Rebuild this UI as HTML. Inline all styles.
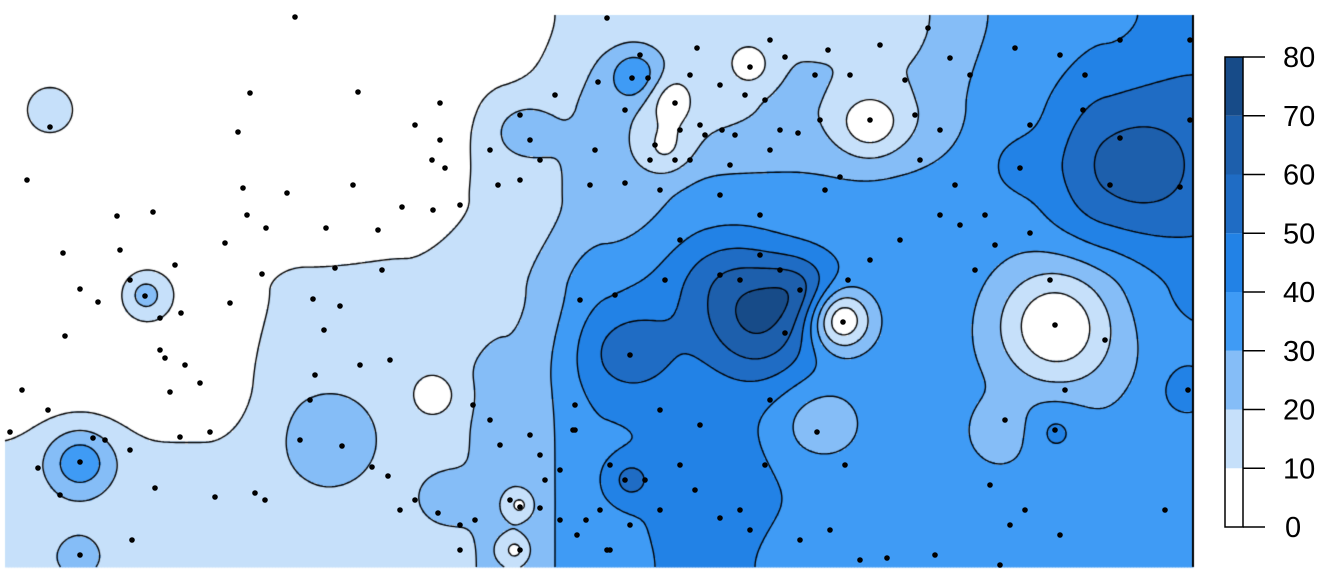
<!DOCTYPE html>
<html><head><meta charset="utf-8">
<style>
html,body{margin:0;padding:0;background:#fff;}
#wrap{position:relative;width:1334px;height:582px;overflow:hidden;font-family:"Liberation Sans",sans-serif;}
canvas,svg{position:absolute;left:0;top:0;}
</style></head>
<body>
<div id="wrap">
<canvas id="cv" width="1334" height="582"></canvas>
<svg id="sv" width="1334" height="582">
  <g id="pts"></g>
  <g id="legend"></g>
</svg>
</div>
<script>
// ---- data ----
const levels = [0,10,20,30,40,50,60,70,80];
const levelColors = ["#ffffff","#c6e0fa","#85bdf7","#3f9bf5","#2282e6","#1f6cc4","#1d5fac","#174b88"];
const gridX = [0,100,200,300,400,500,600,700,800,900,1000,1100,1200];
const gridY = [0,92,184,276,368,460,552];
const gridRow0 = [0,0,0,0,0,5,15,15,18,18,31,38,45];
const gridRow1 = [0,0,0,0,5,8,22,18,22,22,34,42,50];
const gridRow2 = [0,0,0,0,5,12,25,32,32,33,35,42,50];
const gridRow3 = [0,0,5,12,12,18,35,40,40,36,35,35,42];
const gridRow4 = [5,5,5,15,15,22,38,40,38,35,34,32,35];
const gridRow5 = [12,12,12,15,15,22,38,45,40,35,33,33,35];
const gridRow6 = [18,15,12,18,12,22,38,42,38,35,33,32,32];
const bumpX =   [45, 140, 75, 75, 325, 430, 435, 515, 755, 795, 725, 625, 835, 1050, 1120, 865, 660, 665, 745, 630, 1015, 1050, 815, 995, 1180, 625, 515, 510];
const bumpY =   [95, 280, 447, 540, 425, 380, 485, 115, 315, 275, 265, 335, 305, 310, 150, 110, 135, 85, 50, 60, 150, 415, 410, 415, 375, 465, 490, 535];
const bumpAmp = [15, 22, 25, 12, 12, -15, 10, 15, 25, 15, 15, 18, -40, -34, 22, -20, -15, -15, -15, 20, 8, 10, -15, -10, 10, 15, -15, -15];
const bumpSig = [25, 18, 25, 15, 35, 15, 18, 25, 40, 25, 40, 35, 22, 42, 50, 25, 20, 18, 15, 18, 20, 20, 30, 22, 20, 15, 10, 10];
const pointX = [295,607,928,1190,880,785,828,697,640,648,632,598,690,720,750,770,765,745,815,850,905,950,970,1015,1060,1085,1120,1083,1030,1190,250,358,440,415,440,432,445,238,27,50,675,625,700,680,655,690,650,675,722,705,735,770,820,870,915,940,780,798,595,660,625,520,530,490,540,555,520,498,460,402,433,353,287,243,247,266,225,153,117,120,175,262,230,382,378,326,335,340,313,324,98,80,63,65,160,160,181,145,130,165,185,200,170,22,48,10,38,60,80,93,105,130,155,180,210,215,255,265,132,80,300,342,360,315,310,390,372,388,400,415,438,460,473,475,490,500,510,530,540,545,560,573,575,520,560,577,586,600,610,610,625,645,630,660,680,695,720,740,750,765,800,830,845,860,887,935,1000,1010,1055,1065,1105,1055,1005,990,1025,1060,1165,1188,975,995,1030,1020,955,985,1110,1120,1180,1050,900,870,848,843,800,785,760,740,720,780,680,665,615,580,630,660,700,770,817,760,730,840,920,940,825,720,590,960,575,540,460,520,607];
const pointY = [17,18,28,40,45,57,50,48,55,78,78,82,75,85,67,40,100,95,75,75,80,58,75,48,55,75,40,110,125,120,93,92,103,125,140,160,168,132,180,127,103,110,125,130,145,160,160,160,130,135,135,150,120,120,115,130,130,133,150,190,183,115,140,150,160,95,180,185,205,207,210,185,193,188,215,228,243,212,216,250,265,274,303,270,230,228,268,306,299,330,302,289,253,336,350,318,313,296,280,358,365,383,392,390,410,432,468,495,462,438,440,450,488,437,432,497,493,500,540,555,440,446,365,375,400,360,467,476,510,500,513,525,405,520,420,445,500,435,455,480,470,430,405,507,520,535,520,510,550,465,480,480,525,510,465,490,518,510,530,465,540,530,465,560,558,555,565,525,430,390,340,325,420,485,510,535,510,390,270,245,233,168,185,215,185,138,187,280,240,260,280,322,290,333,255,280,275,270,240,280,295,300,355,410,425,400,432,215,165,177,160,215,190,195,185,225,430,508,550,550,550];
const legendTicks = [0,10,20,30,40,50,60,70,80];

// ---- geometry ----
const PX0=5, PY0=15, PW=1188, PH=552;
const gridRows=[gridRow0,gridRow1,gridRow2,gridRow3,gridRow4,gridRow5,gridRow6];
function gridVal(x,y){
  let i=Math.min(gridX.length-2,Math.max(0,Math.floor(x/100)));
  let j=Math.min(gridY.length-2,Math.max(0,Math.floor(y/92)));
  let tx=(x-gridX[i])/100, ty=(y-gridY[j])/92;
  tx=Math.max(0,Math.min(1,tx)); ty=Math.max(0,Math.min(1,ty));
  tx=tx*tx*(3-2*tx); ty=ty*ty*(3-2*ty);
  const a=gridRows[j][i],b=gridRows[j][i+1],c=gridRows[j+1][i],d=gridRows[j+1][i+1];
  return (a*(1-tx)+b*tx)*(1-ty)+(c*(1-tx)+d*tx)*ty;
}
function field(x,y){
  let v=gridVal(x,y);
  for(let k=0;k<bumpX.length;k++){
    const dx=x-bumpX[k],dy=y-bumpY[k],s=bumpSig[k];
    v+=bumpAmp[k]*Math.exp(-(dx*dx+dy*dy)/(2*s*s));
  }
  return Math.max(0,Math.min(79.9,v));
}
function colorFor(v){let b=Math.floor(v/10);return levelColors[Math.max(0,Math.min(7,b))];}

const cv=document.getElementById('cv'),ctx=cv.getContext('2d');
const STEP=3;
const nx=Math.ceil(PW/STEP)+1, ny=Math.ceil(PH/STEP)+1;
const F=[];
for(let j=0;j<ny;j++){F.push([]);for(let i=0;i<nx;i++)F[j].push(field(i*STEP,j*STEP));}
for(let j=0;j<ny-1;j++)for(let i=0;i<nx-1;i++){
  const v=(F[j][i]+F[j][i+1]+F[j+1][i]+F[j+1][i+1])/4;
  ctx.fillStyle=colorFor(v);
  ctx.fillRect(PX0+i*STEP,PY0+j*STEP,Math.min(STEP,PW-i*STEP)+0.5,Math.min(STEP,PH-j*STEP)+0.5);
}
ctx.strokeStyle="#000";ctx.lineWidth=1.4;ctx.beginPath();
for(let L=1;L<8;L++){
  const lv=levels[L];
  for(let j=0;j<ny-1;j++)for(let i=0;i<nx-1;i++){
    const a=F[j][i],b=F[j][i+1],c=F[j+1][i+1],d=F[j+1][i];
    const x0=PX0+i*STEP,y0=PY0+j*STEP,pts=[];
    if((a<lv)!==(b<lv))pts.push([x0+STEP*(lv-a)/(b-a),y0]);
    if((b<lv)!==(c<lv))pts.push([x0+STEP,y0+STEP*(lv-b)/(c-b)]);
    if((d<lv)!==(c<lv))pts.push([x0+STEP*(lv-d)/(c-d),y0+STEP]);
    if((a<lv)!==(d<lv))pts.push([x0,y0+STEP*(lv-a)/(d-a)]);
    for(let k=0;k+1<pts.length;k+=2){ctx.moveTo(pts[k][0],pts[k][1]);ctx.lineTo(pts[k+1][0],pts[k+1][1]);}
  }
}
ctx.stroke();
ctx.fillStyle="#000";ctx.fillRect(1192,15,2,552);

const NS="http://www.w3.org/2000/svg";
const gp=document.getElementById('pts');
for(let k=0;k<pointX.length;k++){
  const c=document.createElementNS(NS,'circle');
  
  
  c.setAttribute('cx',pointX[k]);c.setAttribute('cy',pointY[k]);c.setAttribute('r',2.8);c.setAttribute('fill','#000');
  gp.appendChild(c);
}
const lg=document.getElementById('legend');
const LX=1225,LW=18,LT=57,LB=527;
function ly(v){return LB-(v-levels[0])/(levels[8]-levels[0])*(LB-LT);}
for(let k=0;k<8;k++){
  const r=document.createElementNS(NS,'rect');
  
  
  r.setAttribute('x',LX);r.setAttribute('y',ly(levels[k+1]));r.setAttribute('width',LW);r.setAttribute('height',ly(levels[k])-ly(levels[k+1]));r.setAttribute('fill',levelColors[k]);
  lg.appendChild(r);
}
const fr=document.createElementNS(NS,'rect');


fr.setAttribute('x',LX);fr.setAttribute('y',LT);fr.setAttribute('width',LW);fr.setAttribute('height',LB-LT);fr.setAttribute('fill','none');fr.setAttribute('stroke','#000');fr.setAttribute('stroke-width','1.5');
lg.appendChild(fr);
for(const t of legendTicks){
  const ln=document.createElementNS(NS,'line');
  
  
  ln.setAttribute('x1',LX+LW);ln.setAttribute('x2',1265);ln.setAttribute('y1',ly(t));ln.setAttribute('y2',ly(t));ln.setAttribute('stroke','#000');ln.setAttribute('stroke-width','1.5');
  lg.appendChild(ln);
  const tx=document.createElementNS(NS,'text');
  
  
  tx.setAttribute('x',t===0?1285:1283);tx.setAttribute('y',ly(t)+10);tx.setAttribute('font-size','29');tx.setAttribute('fill','#000');
  tx.setAttribute('font-family','Liberation Sans, sans-serif');
  tx.textContent=t;
  lg.appendChild(tx);
}
</script>
</body></html>
